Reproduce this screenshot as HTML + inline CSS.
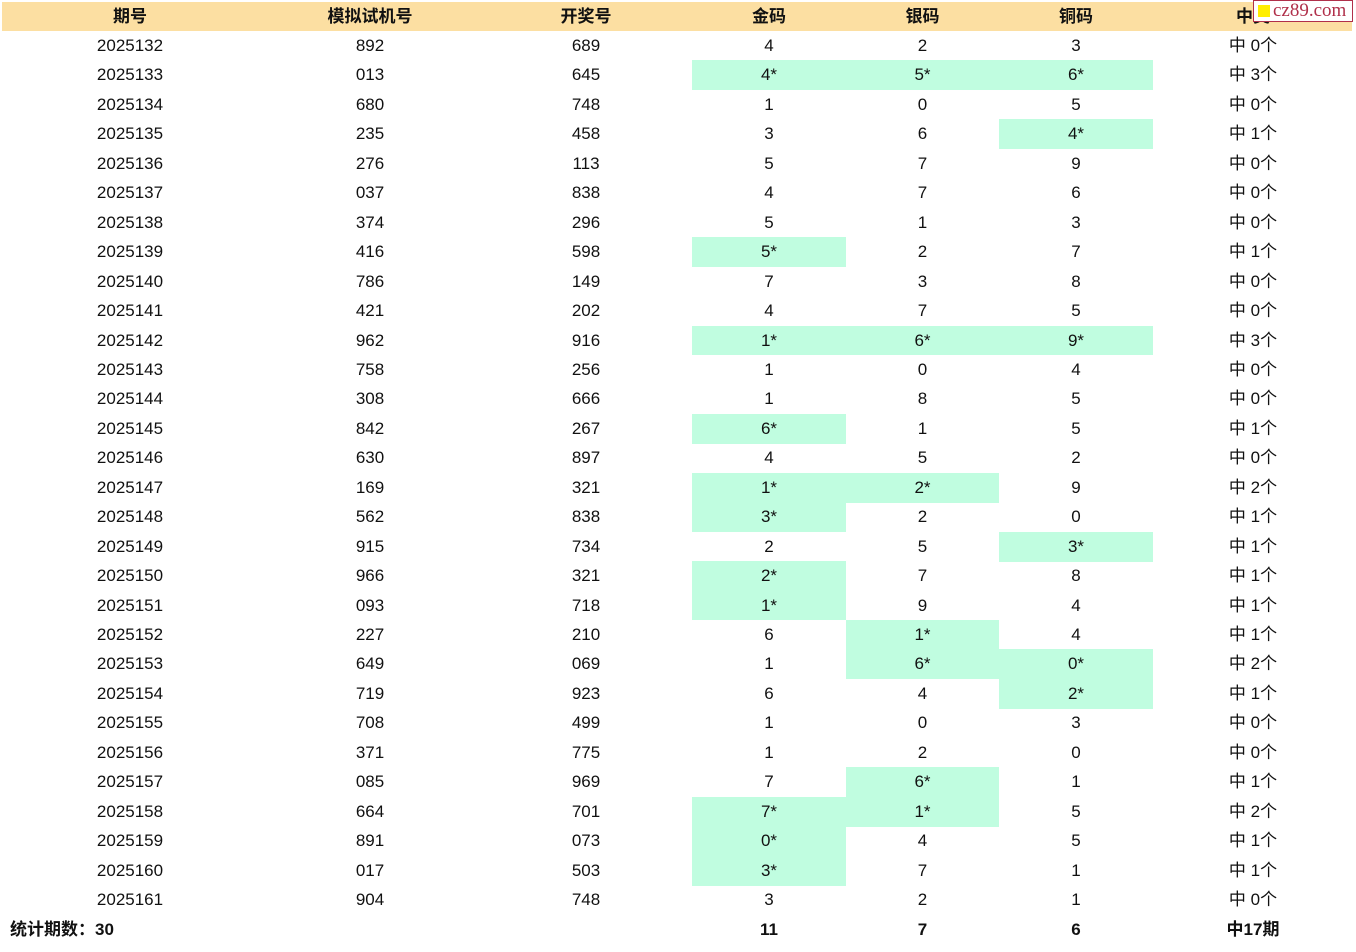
<!DOCTYPE html>
<html><head><meta charset="utf-8">
<style>
html,body{margin:0;padding:0;background:#fff;width:1356px;height:952px;overflow:hidden;position:relative;font-family:"Liberation Sans","Noto Sans CJK SC",sans-serif;color:#111;}
.c{position:absolute;text-align:center;font-size:17px;white-space:nowrap;}
.h{font-weight:bold;}
#hdr{position:absolute;left:2px;top:2px;width:1350px;height:29px;background:#fcdfa2;}
#logo{position:absolute;left:1253px;top:0px;width:100px;height:22px;background:#fff;border:1px solid #b0304a;box-sizing:border-box;font-family:"Liberation Serif",serif;font-size:19px;color:#b0304a;line-height:20px;padding-left:19px;}
#logo i{position:absolute;left:4px;top:4px;width:12px;height:12px;background:#ffee00;}
</style></head><body>
<div id="hdr"></div>
<div id="root"></div>
<div id="logo"><i></i>cz89.com</div>
<script>
const headers=["期号","模拟试机号","开奖号","金码","银码","铜码","中奖"];
const issues=[2025132,2025133,2025134,2025135,2025136,2025137,2025138,2025139,2025140,2025141,2025142,2025143,2025144,2025145,2025146,2025147,2025148,2025149,2025150,2025151,2025152,2025153,2025154,2025155,2025156,2025157,2025158,2025159,2025160,2025161];
const sims=["892","013","680","235","276","037","374","416","786","421","962","758","308","842","630","169","562","915","966","093","227","649","719","708","371","085","664","891","017","904"];
const draws=["689","645","748","458","113","838","296","598","149","202","916","256","666","267","897","321","838","734","321","718","210","069","923","499","775","969","701","073","503","748"];
const gold=["4","4*","1","3","5","4","5","5*","7","4","1*","1","1","6*","4","1*","3*","2","2*","1*","6","1","6","1","1","7","7*","0*","3*","3"];
const silver=["2","5*","0","6","7","7","1","2","3","7","6*","0","8","1","5","2*","2","5","7","9","1*","6*","4","0","2","6*","1*","4","7","2"];
const bronze=["3","6*","5","4*","9","6","3","7","8","5","9*","4","5","5","2","9","0","3*","8","4","4","0*","2*","3","0","1","5","5","1","1"];
const hits=[0,3,0,1,0,0,0,1,0,0,3,0,0,1,0,2,1,1,1,1,1,2,1,0,0,1,2,1,1,0];
const footer=["统计期数：30","","","11","7","6","中17期"];
const colL=[0,260,480,692,846,999,1153];
const colW=[260,220,212,154,153,154,200];
const names=["issue","sim-number","draw-number","gold-code","silver-code","bronze-code","hit-count"];
const root=document.getElementById('root');
function cell(txt,col,top,h,cls,bg,name){
  const d=document.createElement('div');
  d.className='c '+cls;
  d.style.left=colL[col]+'px';d.style.width=colW[col]+'px';
  d.style.top=top+'px';d.style.height=h+'px';d.style.lineHeight=h+'px';
  if(bg)d.style.background=bg;
  d.textContent=txt;
  
  
  root.appendChild(d);
  return d;
}
headers.forEach((t,i)=>cell(t,i,2,29,'h','', 'header-'+names[i]));
const pitch=29.45;
issues.forEach((v,r)=>{
  const top=31+r*pitch;
  const vals=[String(v),sims[r],draws[r],gold[r],silver[r],bronze[r],'中 '+hits[r]+'个'];
  vals.forEach((t,c)=>{
    const hl=(c>=3&&c<=5&&t.indexOf('*')>=0)?'#c0fde0':'';
    cell(t,c,top,pitch+0.5,'',hl,names[c]+'-cell');
  });
});
const ft=31+30*pitch;
footer.forEach((t,c)=>{
  if(!t)return;
  const d=cell(t,c,ft,29,'h','', 'footer-'+names[c]);
  if(c===0){d.style.textAlign='left';d.style.paddingLeft='10px';d.style.boxSizing='border-box';}
});
</script>
</body></html>
